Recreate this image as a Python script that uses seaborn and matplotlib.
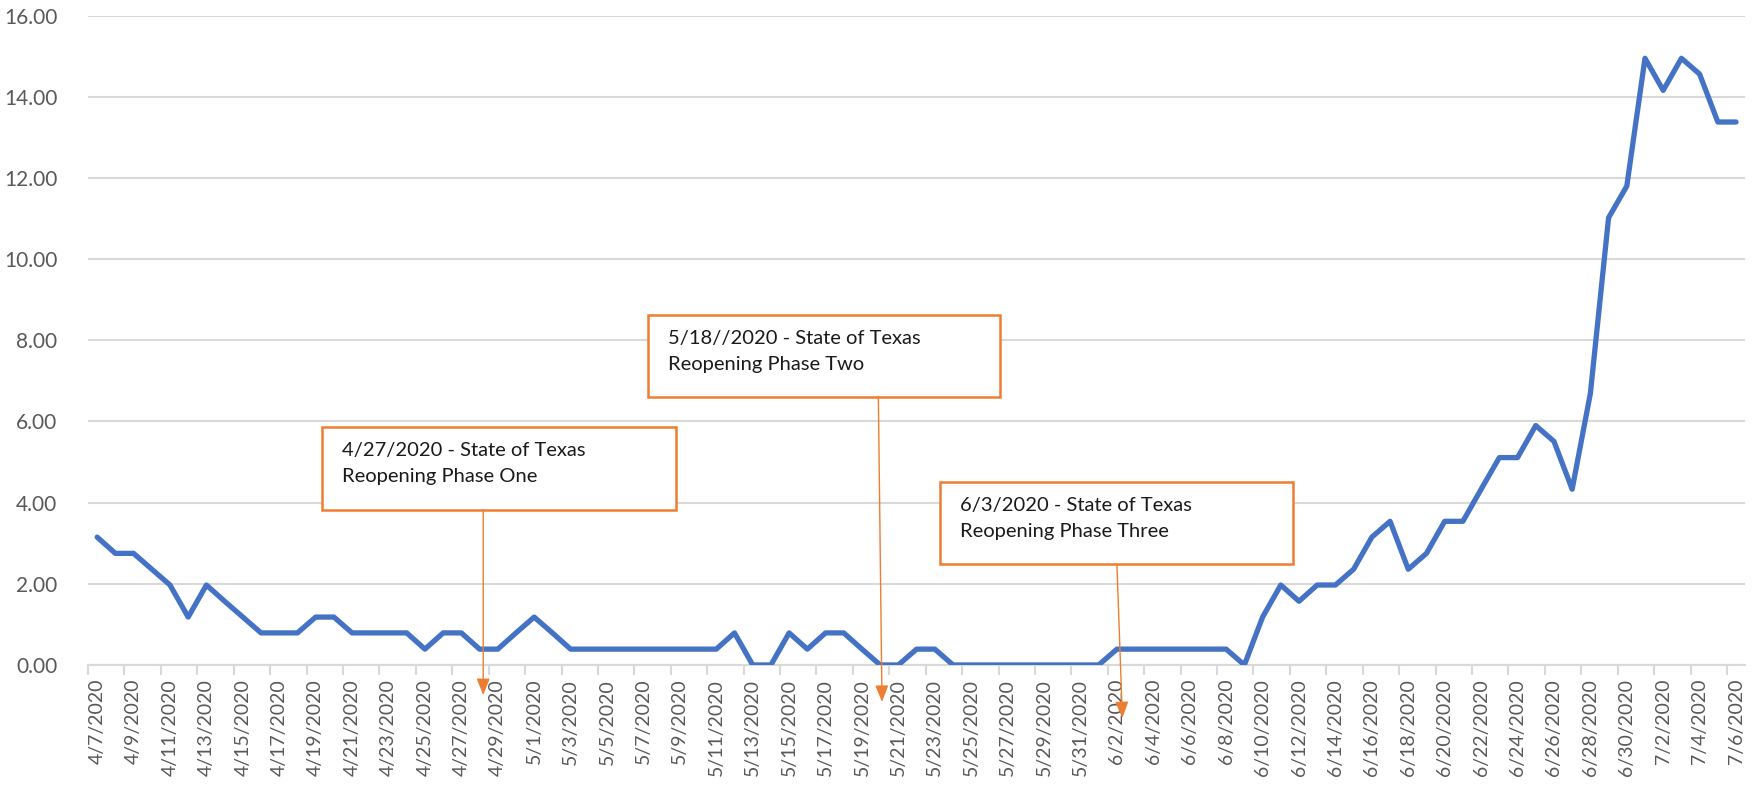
import pandas as pd
import numpy as np
import seaborn as sns
import matplotlib.pyplot as plt
from matplotlib.patches import Rectangle

# daily values, 4/7/2020 .. 7/6/2020
dates = pd.date_range('2020-04-07', '2020-07-06', freq='D')
date_labels = [f"{d.month}/{d.day}/{d.year}" for d in dates]
values = [
    3.15, 2.75, 2.75, 2.36, 1.97, 1.18, 1.97, 1.57, 1.18, 0.79,   # 4/7 - 4/16
    0.79, 0.79, 1.18, 1.18, 0.79, 0.79, 0.79, 0.79, 0.39, 0.79,   # 4/17 - 4/26
    0.79, 0.39, 0.39, 0.79, 1.18, 0.79, 0.39, 0.39, 0.39, 0.39,   # 4/27 - 5/6
    0.39, 0.39, 0.39, 0.39, 0.39, 0.79, 0.00, 0.00, 0.79, 0.39,   # 5/7 - 5/16
    0.79, 0.79, 0.39, 0.00, 0.00, 0.39, 0.39, 0.00, 0.00, 0.00,   # 5/17 - 5/26
    0.00, 0.00, 0.00, 0.00, 0.00, 0.00, 0.39, 0.39, 0.39, 0.39,   # 5/27 - 6/5
    0.39, 0.39, 0.39, 0.00, 1.18, 1.97, 1.57, 1.97, 1.97, 2.36,   # 6/6 - 6/15
    3.15, 3.54, 2.36, 2.75, 3.54, 3.54, 4.33, 5.11, 5.11, 5.90,   # 6/16 - 6/25
    5.51, 4.33, 6.69, 11.02, 11.80, 14.95, 14.16, 14.95, 14.56, 13.38,  # 6/26 - 7/5
    13.38,                                                        # 7/6
]
y_ticks = [0, 2, 4, 6, 8, 10, 12, 14, 16]

# annotation boxes: text, box (x0, x1, y_top, y_bottom), arrow (x_start, y_start, x_tip, y_tip)
notes = [
    ("4/27/2020 - State of Texas\nReopening Phase One", (12.36, 31.76, 5.87, 3.82), (21.2, 3.82, 21.2, -0.74)),
    ("5/18//2020 - State of Texas\nReopening Phase Two", (30.27, 49.6, 8.63, 6.61), (42.9, 6.61, 43.1, -0.91)),
    ("6/3/2020 - State of Texas\nReopening Phase Three", (46.3, 65.66, 4.51, 2.49), (56.0, 2.49, 56.3, -1.31)),
]

df = pd.DataFrame({'pos': np.arange(len(values)), 'value': values})

sns.set_style('white')
plt.rcParams['font.family'] = ['Lato', 'DejaVu Sans']

fig = plt.figure(figsize=(17.61, 7.92), dpi=100)
ax = fig.add_axes([0.05, 0.1604, 0.941, 0.8198])

sns.lineplot(data=df, x='pos', y='value', ax=ax, color='#4472C4', linewidth=3.8, zorder=3)

ax.set_xlim(-0.5, len(values) - 0.5)
ax.set_ylim(0, 16)
ax.set_yticks(y_ticks)
ax.set_yticklabels([f"{v:.2f}" for v in y_ticks], fontsize=15, color='#595959')
ax.grid(axis='y', color='#d9d9d9', linewidth=1.5)
ax.set_axisbelow(True)

ax.set_xticks(np.arange(0, len(values), 2))
ax.set_xticklabels(date_labels[::2], rotation=90, fontsize=14, color='#595959')
ax.set_xticks(np.arange(-0.5, len(values), 2), minor=True)
ax.tick_params(axis='x', which='major', length=0, pad=10)
ax.tick_params(axis='x', which='minor', length=7, width=1.5, color='#d9d9d9', bottom=True)
ax.tick_params(axis='y', length=0, pad=22)
ax.set_xlabel('')
ax.set_ylabel('')

for side in ['top', 'right', 'left']:
    ax.spines[side].set_visible(False)
ax.spines['bottom'].set_color('#d9d9d9')
ax.spines['bottom'].set_linewidth(1.5)

for text, (x0, x1, yt, yb), (ax0, ay0, ax1, ay1) in notes:
    ax.add_patch(Rectangle((x0, yb), x1 - x0, yt - yb, facecolor='white',
                           edgecolor='#ED7D31', linewidth=1.8, zorder=5))
    ax.text(x0 + 1.1, yt - 0.38, text, fontsize=14.5, color='#1a1a1a', va='top', ha='left',
            linespacing=1.6, zorder=6)
    ax.annotate('', xy=(ax1, ay1), xytext=(ax0, ay0), annotation_clip=False,
                arrowprops=dict(arrowstyle='-|>,head_length=1.0,head_width=0.4',
                                color='#ED7D31', linewidth=1.0, shrinkA=0, shrinkB=0),
                zorder=6)

plt.savefig('out.png', dpi=100)
